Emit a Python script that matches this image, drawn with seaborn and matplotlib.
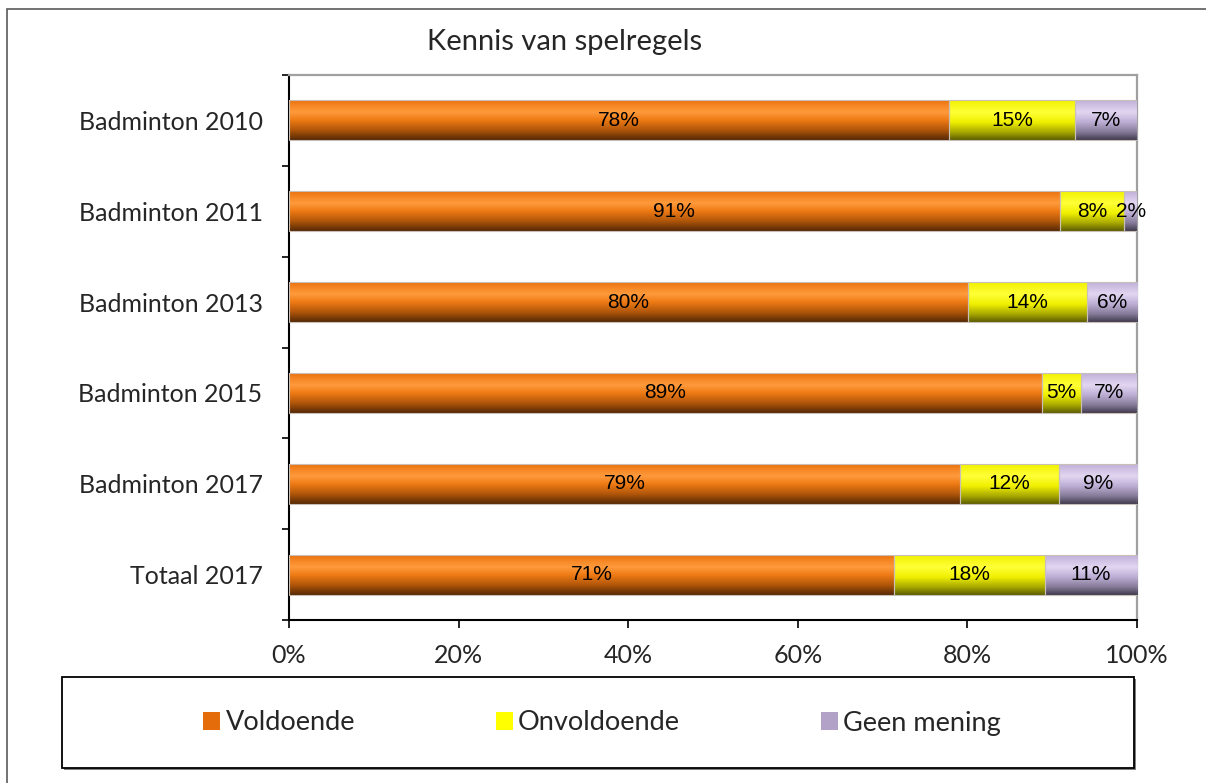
import numpy as np
import pandas as pd
import seaborn as sns
import matplotlib
matplotlib.use("Agg")
import matplotlib.pyplot as plt
from matplotlib.patches import Patch, Rectangle
from matplotlib.colors import LinearSegmentedColormap
from matplotlib import font_manager as fm

# ---------------- data ----------------
categories = ["Badminton 2010", "Badminton 2011", "Badminton 2013",
              "Badminton 2015", "Badminton 2017", "Totaal 2017"]
voldoende = [77.8, 90.9, 80.1, 88.8, 79.1, 71.4]
onvoldoende = [14.9, 7.6, 14.0, 4.6, 11.7, 17.7]
geen_mening = [7.3, 1.5, 5.9, 6.6, 9.2, 10.9]
series_names = ["Voldoende", "Onvoldoende", "Geen mening"]
xtick_values = [0, 20, 40, 60, 80, 100]
xtick_labels = ["0%", "20%", "40%", "60%", "80%", "100%"]
title = "Kennis van spelregels"

# ---------------- styling ----------------
sns.set_theme(style="white")
names = {f.name for f in fm.fontManager.ttflist}
main_font = "Lato" if "Lato" in names else "DejaVu Sans"
narrow_font = "Liberation Sans Narrow" if "Liberation Sans Narrow" in names else "Liberation Sans"
plt.rcParams["font.family"] = [main_font, "DejaVu Sans"]

legend_colors = ["#E46C0A", "#FFFF00", "#B3A2C7"]
gradients = [
    [(0.0, "#E8700C"), (0.12, "#F58422"), (0.3, "#FF9A3C"), (0.5, "#EE7A14"),
     (0.75, "#B0560A"), (1.0, "#552805")],
    [(0.0, "#F2F200"), (0.3, "#FFFF38"), (0.55, "#F0F000"), (0.8, "#A8A800"),
     (1.0, "#5C5C00")],
    [(0.0, "#C0B0D8"), (0.3, "#E2D6F2"), (0.55, "#BCAED4"), (0.8, "#857A98"),
     (1.0, "#403A4C")],
]

W, H = 1206, 783
fig = plt.figure(figsize=(W / 100, H / 100), dpi=100)
ax = fig.add_axes([289 / W, 1 - 620 / H, (1137 - 289) / W, (620 - 75) / H])

series = [voldoende, onvoldoende, geen_mening]
cum = np.cumsum(np.array(series), axis=0)
bar_w = 0.44

# draw layers from the longest cumulative bar to the shortest
layer_patches = {}
for k in reversed(range(3)):
    df = pd.DataFrame({"cat": categories, "val": cum[k]})
    before = len(ax.patches)
    sns.barplot(data=df, x="val", y="cat", orient="h", color=legend_colors[k],
                width=bar_w, ax=ax, saturation=1, edgecolor="none")
    layer_patches[k] = ax.patches[before:]

grad = np.linspace(0, 1, 256).reshape(-1, 1)
for k in range(3):
    cmap = LinearSegmentedColormap.from_list(f"g{k}", gradients[k])
    for i, p in enumerate(layer_patches[k]):
        right = p.get_x() + p.get_width()
        left = 0.0 if k == 0 else cum[k - 1][i]
        y0 = p.get_y()
        y1 = y0 + p.get_height()
        ax.imshow(grad, cmap=cmap, aspect="auto", interpolation="bilinear",
                  extent=(left, right, y1, y0), origin="upper", zorder=3)
        ax.add_patch(Rectangle((left, y0), right - left, y1 - y0, fill=False,
                               ec="#C8C0B8", lw=0.8, zorder=3.5))
        v = series[k][i]
        ax.text((left + right) / 2, (y0 + y1) / 2, f"{int(v + 0.5)}%",
                ha="center", va="center", fontsize=15, family=narrow_font,
                color="black", zorder=5)

ax.set_xlim(0, 100)
ax.set_ylim(5.5, -0.5)
ax.set_xlabel("")
ax.set_ylabel("")
ax.set_xticks(xtick_values, labels=xtick_labels)
ax.set_yticks(np.arange(-0.5, 6, 1.0), labels=[""] * 7)
ax.set_yticks(range(len(categories)), labels=categories, minor=True)
ax.tick_params(axis="y", which="major", length=5, width=1.2, color="black",
               direction="out", left=True)
ax.tick_params(axis="y", which="minor", length=0, pad=19, labelsize=18)
ax.tick_params(axis="x", which="major", length=6, width=1.2, color="black",
               direction="out", bottom=True, pad=11, labelsize=18)

for s in ["left", "bottom"]:
    ax.spines[s].set_color("black")
    ax.spines[s].set_linewidth(1.5)
for s in ["top", "right"]:
    ax.spines[s].set_color("#A0A0A0")
    ax.spines[s].set_linewidth(1.6)
ax.grid(False)

fig.text(565 / W, 1 - 42 / H, title, ha="center", va="center", fontsize=21)

# outer frame
fig.add_artist(Rectangle((7 / W, -0.05), 1.1, (H - 9) / H + 0.05,
                         transform=fig.transFigure, fill=False,
                         ec="#5A5A5A", lw=1.2))

# legend box with shadow
fig.add_artist(Rectangle((64 / W, 1 - 770 / H), (1134 - 62) / W, (768 - 677) / H,
                         transform=fig.transFigure, fc="#808080", ec="none"))
fig.add_artist(Rectangle((62 / W, 1 - 768 / H), (1134 - 62) / W, (768 - 677) / H,
                         transform=fig.transFigure, fc="white", ec="black", lw=1.3))
handles = [Patch(facecolor=c, edgecolor="none", label=n)
           for c, n in zip(legend_colors, series_names)]
fig.legend(handles=handles, loc="center", bbox_to_anchor=(602 / W, 1 - 723 / H),
           ncol=3, frameon=False, fontsize=19.5, handlelength=0.62, handleheight=0.62,
           handletextpad=0.2, columnspacing=5.2)

fig.savefig("out.png", dpi=100)
